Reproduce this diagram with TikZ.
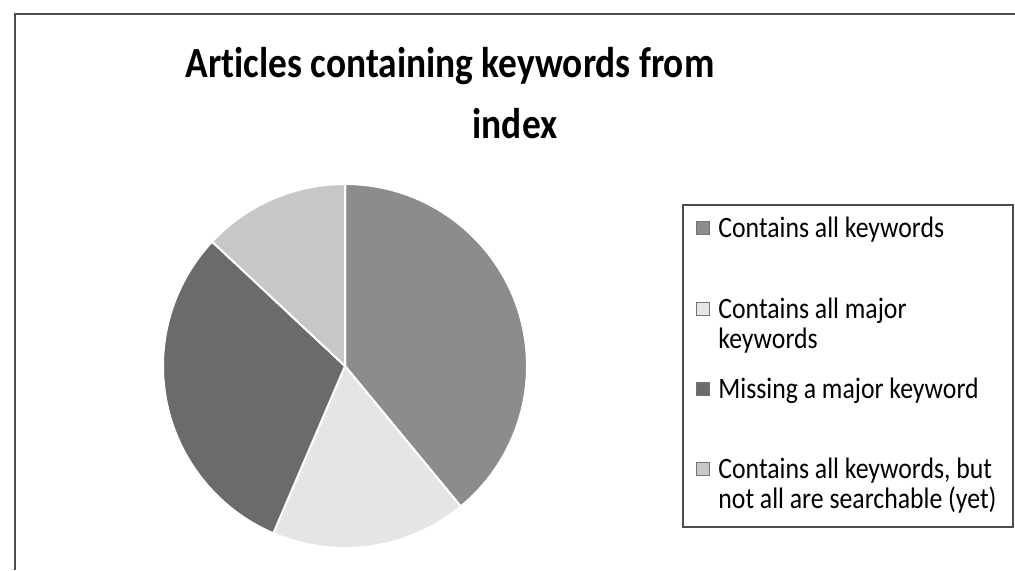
\documentclass[tikz,border=0pt]{standalone}
\usepackage{fontspec}
\setmainfont{Carlito}[FakeStretch=0.87, Ligatures=NoCommon]
\usetikzlibrary{positioning}

\definecolor{sliceall}{gray}{0.55}
\definecolor{slicemajor}{gray}{0.90}
\definecolor{slicemissing}{gray}{0.42}
\definecolor{slicenotsearch}{gray}{0.78}

\tikzset{
  frame/.style={draw=black!70, line width=0.6pt},
  slice/.style={draw=white, line width=1pt},
  titletext/.style={anchor=base, inner sep=0pt, font=\fontsize{21.5}{26}\selectfont\bfseries},
  legtext/.style={anchor=base west, inner sep=0pt, align=left, font=\fontsize{14.8}{15}\selectfont},
  legkey/.style={minimum size=6.5pt, inner sep=0pt, draw=black!55, line width=0.3pt},
}

\begin{document}
\begin{tikzpicture}[x=0.5pt, y=0.5pt]
    \useasboundingbox (0,0) rectangle (1015,570);
    \draw[frame] (1015,556) -- (15,556) -- (15,0);

    \node[titletext] (title) at (450,493) {Articles containing keywords from};
    \node[titletext] (titleb) at (515,432) {index};

    % pie
    \coordinate (c) at (345,204);
    \filldraw[slice, fill=sliceall] (c) -- ++(90:182) arc (90:-50.5:182) -- cycle;
    \filldraw[slice, fill=slicemajor] (c) -- ++(-50.5:182) arc (-50.5:-113.2:182) -- cycle;
    \filldraw[slice, fill=slicemissing] (c) -- ++(-113.2:182) arc (-113.2:-223.1:182) -- cycle;
    \filldraw[slice, fill=slicenotsearch] (c) -- ++(-223.1:182) arc (-223.1:-270:182) -- cycle;

    % legend (two-line entries are anchored on their last line)
    \draw[frame] (683,43) rectangle (1013,365);
    \node[legtext] (eall) at (718,333) {Contains all keywords};
    \node[legtext] (emajor) at (718,222) {Contains all major\\keywords};
    \node[legtext] (emissing) at (718,172) {Missing a major keyword};
    \node[legtext] (enot) at (718,62) {Contains all keywords, but\\not all are searchable (yet)};

    \node[legkey, fill=sliceall, above left=1pt and 4pt of eall.base west] (kall) {};
    \node[legkey, fill=slicemajor, above left=16pt and 4pt of emajor.base west] (kmajor) {};
    \node[legkey, fill=slicemissing, above left=1pt and 4pt of emissing.base west] (kmissing) {};
    \node[legkey, fill=slicenotsearch, above left=16pt and 4pt of enot.base west] (knot) {};
\end{tikzpicture}
\end{document}
